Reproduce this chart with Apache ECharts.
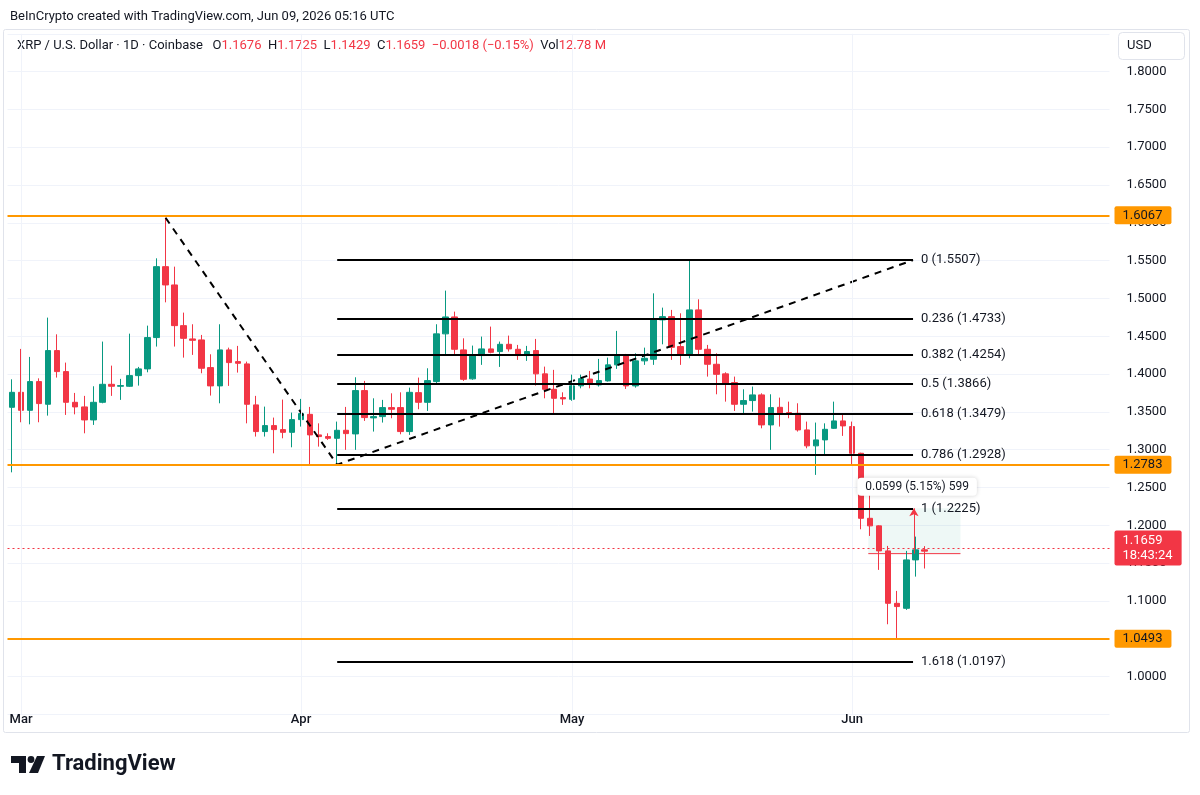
<!DOCTYPE html>
<html>
<head>
<meta charset="utf-8">
<title>XRP / U.S. Dollar · 1D · Coinbase</title>
<script src="https://cdn.jsdelivr.net/npm/echarts@6/dist/echarts.min.js"></script>
<style>
  html, body { margin: 0; padding: 0; background: #fff; }
  #chart { width: 1200px; height: 795px; }
</style>
</head>
<body>
<div id="chart"></div>
<script>
  // daily candles, Feb 28 .. Jun 9
  const startDay = '2026-02-28';
  const dayCount = 122; // visible days incl. empty space on the right
  const monthTicks = { '03-01': 'Mar', '04-01': 'Apr', '05-01': 'May', '06-01': 'Jun' };

  const opens = [
    1.3561, 1.3759, 1.3521, 1.3901, 1.3601, 1.4311, 1.4033, 1.3627, 1.3566, 1.3394,
    1.3627, 1.3865, 1.3839, 1.3839, 1.3980, 1.4069, 1.4483, 1.5421, 1.5179, 1.4641,
    1.4465, 1.4452, 1.4086, 1.3844, 1.4320, 1.4165, 1.4135, 1.3593, 1.3240, 1.3319,
    1.3266, 1.3230, 1.3398, 1.3468, 1.3196, 1.3174, 1.3151, 1.3257, 1.3209, 1.3782,
    1.3421, 1.3438, 1.3557, 1.3557, 1.3240, 1.3755, 1.3627, 1.3901, 1.4532, 1.4756,
    1.4320, 1.3937, 1.4245, 1.4333, 1.4298, 1.4394, 1.4328, 1.4245, 1.4311, 1.4003,
    1.3799, 1.3689, 1.3667, 1.3845, 1.3934, 1.3857, 1.3910, 1.4122, 1.4241, 1.3844,
    1.4175, 1.4196, 1.4717, 1.4760, 1.4364, 1.4254, 1.4849, 1.4328, 1.4130, 1.4003,
    1.3888, 1.3601, 1.3650, 1.3725, 1.3328, 1.3561, 1.3491, 1.3482, 1.3262, 1.3051,
    1.3130, 1.3283, 1.3381, 1.3306, 1.2953, 1.2093, 1.1993, 1.1662, 1.0969, 1.0903,
    1.1543, 1.1676
  ];
  const highs = [
    1.3931, 1.4333, 1.4227, 1.3944, 1.4747, 1.4526, 1.4152, 1.3751, 1.3712, 1.3839,
    1.4430, 1.4112, 1.3937, 1.4535, 1.4095, 1.4641, 1.5531, 1.6067, 1.5421, 1.4813,
    1.4659, 1.4518, 1.4262, 1.4659, 1.4350, 1.4373, 1.4165, 1.3712, 1.3570, 1.3425,
    1.3663, 1.3491, 1.3672, 1.3566, 1.3349, 1.3217, 1.3372, 1.3566, 1.3958, 1.3910,
    1.3680, 1.3659, 1.3746, 1.3759, 1.3821, 1.3954, 1.4077, 1.4659, 1.5104, 1.4826,
    1.4473, 1.4377, 1.4496, 1.4628, 1.4430, 1.4509, 1.4386, 1.4373, 1.4465, 1.4099,
    1.4056, 1.3759, 1.3993, 1.3993, 1.4042, 1.4201, 1.4218, 1.4571, 1.4267, 1.4275,
    1.4350, 1.5068, 1.4879, 1.4849, 1.4804, 1.5497, 1.4989, 1.4386, 1.4275, 1.4024,
    1.3967, 1.3799, 1.3835, 1.3746, 1.3733, 1.3689, 1.3636, 1.3614, 1.3372, 1.3359,
    1.3349, 1.3636, 1.3460, 1.3372, 1.2960, 1.2477, 1.2000, 1.1728, 1.1133, 1.1662,
    1.1851, 1.1725
  ];
  const lows = [
    1.2701, 1.3363, 1.3336, 1.3363, 1.3451, 1.3954, 1.3460, 1.3468, 1.3217, 1.3328,
    1.3614, 1.3712, 1.3659, 1.3830, 1.3848, 1.4024, 1.4364, 1.4949, 1.4364, 1.4218,
    1.4254, 1.4011, 1.3716, 1.3614, 1.3844, 1.4020, 1.3349, 1.3174, 1.3174, 1.2953,
    1.3151, 1.3032, 1.3306, 1.2807, 1.3041, 1.3130, 1.2790, 1.2998, 1.2998, 1.3381,
    1.3240, 1.3359, 1.3416, 1.3204, 1.3196, 1.3535, 1.3513, 1.3878, 1.4254, 1.4245,
    1.3910, 1.3925, 1.4122, 1.4275, 1.4095, 1.4298, 1.4188, 1.4175, 1.3848, 1.3680,
    1.3468, 1.3593, 1.3647, 1.3812, 1.3812, 1.3835, 1.3901, 1.4069, 1.3804, 1.3821,
    1.4122, 1.4122, 1.4394, 1.4188, 1.4122, 1.4209, 1.4254, 1.3967, 1.3733, 1.3636,
    1.3513, 1.3468, 1.3504, 1.3283, 1.2998, 1.3306, 1.3416, 1.3240, 1.3019, 1.2667,
    1.2940, 1.3275, 1.3183, 1.2799, 1.1948, 1.1860, 1.1411, 1.0692, 1.0493, 1.0882,
    1.1322, 1.1429
  ];
  const closes = [
    1.3759, 1.3521, 1.3901, 1.3610, 1.4311, 1.4033, 1.3627, 1.3566, 1.3394, 1.3627,
    1.3865, 1.3839, 1.3848, 1.3980, 1.4069, 1.4483, 1.5421, 1.5179, 1.4641, 1.4473,
    1.4447, 1.4077, 1.3844, 1.4320, 1.4152, 1.4143, 1.3601, 1.3240, 1.3319, 1.3266,
    1.3230, 1.3398, 1.3478, 1.3196, 1.3174, 1.3151, 1.3257, 1.3213, 1.3782, 1.3425,
    1.3438, 1.3557, 1.3535, 1.3240, 1.3759, 1.3627, 1.3914, 1.4532, 1.4756, 1.4328,
    1.3931, 1.4245, 1.4333, 1.4288, 1.4394, 1.4333, 1.4245, 1.4298, 1.4003, 1.3799,
    1.3680, 1.3672, 1.3845, 1.3940, 1.3878, 1.3914, 1.4122, 1.4241, 1.3844, 1.4175,
    1.4209, 1.4717, 1.4760, 1.4354, 1.4254, 1.4849, 1.4328, 1.4130, 1.3997, 1.3878,
    1.3601, 1.3650, 1.3725, 1.3328, 1.3557, 1.3482, 1.3474, 1.3262, 1.3051, 1.3130,
    1.3270, 1.3381, 1.3315, 1.2953, 1.2093, 1.1993, 1.1662, 1.0969, 1.0926, 1.1543,
    1.1676, 1.1659
  ];

  // drawings
  const supportLevels = [1.6067, 1.2783, 1.0493];
  const lastPrice = 1.1659;
  const lastPriceTimer = '18:43:24';
  const fibLevels = ['0', '0.236', '0.382', '0.5', '0.618', '0.786', '1', '1.618'];
  const fibPrices = [1.5507, 1.4733, 1.4254, 1.3866, 1.3479, 1.2928, 1.2225, 1.0197];
  const fibFrom = 36, fibTo = 99.75;
  const trendBars = [17, 36, 99.75];
  const trendPrices = [1.6067, 1.2803, 1.5507];
  const rangeBars = [94.8, 105];
  const rangePrices = [1.1626, 1.2225];
  const rangeText = '0.0599 (5.15%) 599';

  const GREEN = '#089981', RED = '#f23645', ORANGE = '#ff9800', INK = '#131722';
  const FONT = 'Roboto, "Noto Sans", sans-serif';

  const dates = [];
  const d0 = new Date(startDay + 'T00:00:00Z');
  for (let i = 0; i < dayCount; i++) {
    dates.push(new Date(d0.getTime() + i * 86400000).toISOString().slice(0, 10));
  }
  const monthIdx = dates.map((d, i) => (monthTicks[d.slice(5)] ? i : -1)).filter(i => i >= 0);

  const candles = opens.map((o, i) => [o, closes[i], lows[i], highs[i]]);

  const chart = echarts.init(document.getElementById('chart'));

  chart.setOption({
    animation: false,
    backgroundColor: '#ffffff',
    textStyle: { fontFamily: FONT },
    grid: { left: 7.5, right: 90.5, top: 33.8, bottom: 80.6 },
    xAxis: [
      {
        type: 'category',
        data: dates,
        boundaryGap: true,
        axisLine: { show: false },
        axisTick: { show: false },
        splitLine: { show: false },
        axisLabel: {
          interval: (idx, val) => !!monthTicks[val.slice(5)],
          formatter: v => monthTicks[v.slice(5)] || '',
          color: INK,
          fontSize: 13,
          fontWeight: 500,
          margin: -1
        }
      },
      { type: 'value', min: -0.5, max: dayCount - 0.5, show: false }
    ],
    yAxis: {
      type: 'value',
      position: 'right',
      min: 0.95,
      max: 1.85,
      interval: 0.05,
      axisLine: { show: false },
      axisTick: { show: false },
      splitLine: { lineStyle: { color: '#f0f3fa', width: 1 } },
      axisLabel: {
        margin: 17,
        color: INK,
        fontSize: 13,
        showMinLabel: false,
        showMaxLabel: false,
        formatter: v => v.toFixed(4)
      }
    },
    series: [
      {
        // month grid lines
        type: 'line',
        xAxisIndex: 1,
        data: [],
        z: 0,
        silent: true,
        markLine: {
          silent: true,
          symbol: 'none',
          label: { show: false },
          lineStyle: { color: '#f0f3fa', width: 1, type: 'solid' },
          data: monthIdx.map(i => ({ xAxis: i }))
        }
      },
      {
        // price range measure: box, base line and arrow
        type: 'line',
        xAxisIndex: 1,
        data: [[rangeBars[0], rangePrices[0]], [rangeBars[1], rangePrices[0]]],
        symbol: 'none',
        z: 1,
        silent: true,
        lineStyle: { color: RED, width: 1, type: 'solid' },
        markArea: {
          silent: true,
          itemStyle: { color: 'rgba(8,153,129,0.07)' },
          data: [[{ coord: [rangeBars[0], rangePrices[0]] }, { coord: [rangeBars[1], rangePrices[1]] }]]
        },
        markLine: {
          silent: true,
          symbol: ['none', 'arrow'],
          symbolSize: [7, 8],
          label: { show: false },
          lineStyle: { color: RED, width: 1, type: 'solid' },
          data: [
            [{ coord: [99.85, rangePrices[0]] }, { coord: [99.85, rangePrices[1]] }]
          ]
        },
        markPoint: {
          silent: true,
          symbol: 'rect',
          symbolSize: 1,
          itemStyle: { color: 'rgba(0,0,0,0)' },
          label: {
            show: true,
            position: 'inside',
            formatter: rangeText,
            color: INK,
            fontSize: 12,
            backgroundColor: '#ffffff',
            padding: [3, 8, 3, 8],
            borderRadius: 4,
            shadowColor: 'rgba(0,0,0,0.18)',
            shadowBlur: 4
          },
          data: [{ coord: [100.2, 1.2512] }]
        }
      },
      {
        type: 'candlestick',
        data: candles,
        barWidth: 6,
        z: 2,
        itemStyle: {
          color: GREEN,
          color0: RED,
          borderColor: GREEN,
          borderColor0: RED,
          borderWidth: 1
        },
        markLine: {
          silent: true,
          symbol: 'none',
          lineStyle: { color: ORANGE, width: 2, type: 'solid' },
          label: {
            position: 'end',
            distance: 5,
            color: INK,
            fontSize: 13,
            backgroundColor: ORANGE,
            padding: [3, 9, 2, 8],
            borderRadius: 2
          },
          data: supportLevels.map(v => ({ yAxis: v, label: { formatter: v.toFixed(4) } })).concat([{
            yAxis: lastPrice,
            lineStyle: { color: RED, width: 1, type: [2, 3] },
            label: {
              formatter: lastPrice.toFixed(4) + '\n' + lastPriceTimer,
              color: '#ffffff',
              backgroundColor: RED,
              lineHeight: 15,
              padding: [3, 9, 2, 8]
            }
          }])
        }
      },
      {
        // dashed trend lines and fib retracement
        type: 'line',
        xAxisIndex: 1,
        data: trendBars.map((b, i) => [b, trendPrices[i]]),
        symbol: 'none',
        z: 3,
        silent: true,
        lineStyle: { color: '#000000', width: 2, type: [7, 6] },
        markLine: {
          silent: true,
          symbol: 'none',
          lineStyle: { color: '#000000', width: 2, type: 'solid' },
          label: {
            position: 'end',
            distance: 8,
            color: INK,
            fontSize: 13,
            formatter: p => fibLevels[p.dataIndex] + ' (' + fibPrices[p.dataIndex].toFixed(4) + ')'
          },
          data: fibPrices.map(p => [{ coord: [fibFrom, p] }, { coord: [fibTo, p] }])
        }
      }
    ],
    graphic: [
      {
        type: 'rect',
        silent: true,
        z: -10,
        shape: { x: 3.5, y: 29.5, width: 1186, height: 703, r: 2 },
        style: { fill: 'none', stroke: '#e0e3eb', lineWidth: 1 }
      },
      {
        type: 'text',
        left: 10,
        top: 10,
        style: {
          text: 'BeInCrypto created with TradingView.com, Jun 09, 2026 05:16 UTC',
          fill: INK,
          font: '13px ' + FONT
        }
      },
      {
        type: 'text',
        left: 17,
        top: 39,
        style: {
          text: '{k|XRP / U.S. Dollar · 1D · Coinbase   O}{r|1.1676}{k|  H}{r|1.1725}{k|  L}{r|1.1429}' +
                '{k|  C}{r|1.1659}{r|  −0.0018 (−0.15%)}{k|  Vol}{r|12.78 M}',
          rich: {
            k: { fill: INK, font: '13px ' + FONT },
            r: { fill: RED, font: '13px ' + FONT }
          }
        }
      },
      {
        type: 'rect',
        silent: true,
        shape: { x: 1118.5, y: 32.5, width: 66, height: 27, r: 4 },
        style: { fill: '#ffffff', stroke: '#e0e3eb', lineWidth: 1 }
      },
      {
        type: 'text',
        left: 1127,
        top: 39,
        style: { text: 'USD', fill: INK, font: '13px ' + FONT }
      },
      // TradingView logo
      {
        type: 'polygon',
        silent: true,
        shape: { points: [[11, 756], [26, 756], [26, 773], [19, 773], [19, 763], [11, 763]] },
        style: { fill: INK }
      },
      {
        type: 'circle',
        silent: true,
        shape: { cx: 31, cy: 759.5, r: 3.4 },
        style: { fill: INK }
      },
      {
        type: 'polygon',
        silent: true,
        shape: { points: [[37, 756], [45, 756], [38, 773], [29, 773]] },
        style: { fill: INK }
      },
      {
        type: 'text',
        left: 52,
        top: 753,
        style: { text: 'TradingView', fill: INK, font: 'bold 22px ' + FONT }
      }
    ]
  });
</script>
</body>
</html>
